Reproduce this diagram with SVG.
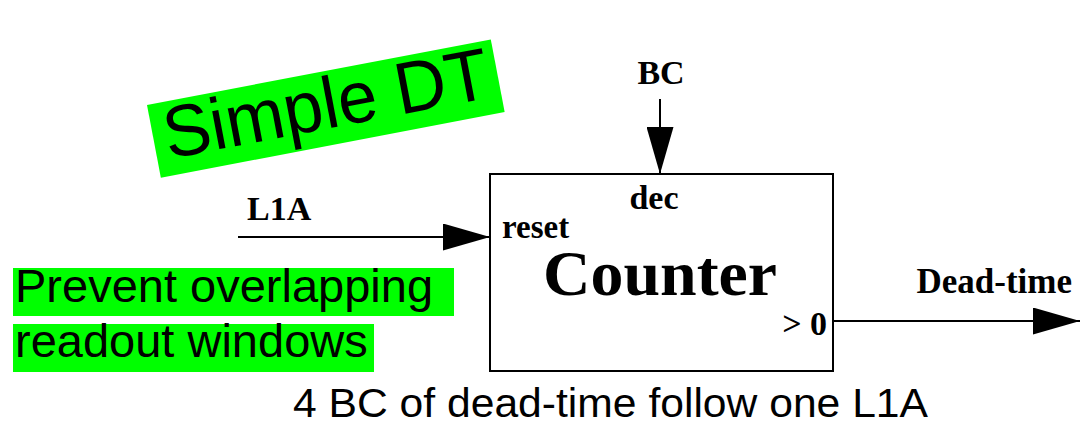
<svg xmlns="http://www.w3.org/2000/svg" width="1081" height="424" viewBox="0 0 1081 424">
<style>
.serif{font-family:"Liberation Serif","Times New Roman",serif;font-weight:bold;fill:#000}
.sans{font-family:"Liberation Sans",Arial,sans-serif;fill:#000}
.hl{fill:#00ff00}
.ln{stroke:#000;stroke-width:2;fill:none}
</style>
<defs>
<marker id="ah" markerWidth="48" markerHeight="27" refX="47" refY="13.5" orient="auto" markerUnits="userSpaceOnUse">
<path d="M0,0 L47,13.5 L0,27 Z" fill="#000"/>
</marker>
</defs>
<rect width="1081" height="424" fill="#fff"/>
<g id="title" transform="translate(147,105) rotate(-10.8)">
<rect class="hl" x="0" y="0" width="350" height="74"/>
<text class="sans" x="11" y="57" font-size="73" textLength="330" lengthAdjust="spacingAndGlyphs">Simple DT</text>
</g>
<g id="note">
<rect class="hl" x="13" y="268" width="441" height="48"/>
<rect class="hl" x="13" y="324" width="361" height="48"/>
<text class="sans" x="15" y="302" font-size="47">Prevent overlapping</text>
<text class="sans" x="15" y="357" font-size="47">readout windows</text>
</g>
<g id="counter">
<rect class="ln" x="490" y="174" width="343" height="197" fill="#fff"/>
<text class="serif" x="654" y="209" font-size="34" text-anchor="middle">dec</text>
<text class="serif" x="502" y="238" font-size="33">reset</text>
<text class="serif" x="660" y="295" font-size="64" text-anchor="middle" textLength="234" lengthAdjust="spacingAndGlyphs">Counter</text>
<text class="serif" x="827" y="335" font-size="34" text-anchor="end">&gt; 0</text>
</g>
<g id="connectors">
<line class="ln" x1="660" y1="99" x2="660" y2="174" marker-end="url(#ah)"/>
<line class="ln" x1="238" y1="237" x2="490" y2="237" marker-end="url(#ah)"/>
<line class="ln" x1="833" y1="321" x2="1080" y2="321" marker-end="url(#ah)"/>
</g>
<g id="labels">
<text class="serif" x="661" y="84" font-size="34" text-anchor="middle">BC</text>
<text class="serif" x="247" y="220" font-size="34">L1A</text>
<text class="serif" x="1072" y="293" font-size="35" text-anchor="end">Dead-time</text>
</g>
<text class="sans" x="293" y="417" font-size="41" textLength="635" lengthAdjust="spacingAndGlyphs">4 BC of dead-time follow one L1A</text>
</svg>
